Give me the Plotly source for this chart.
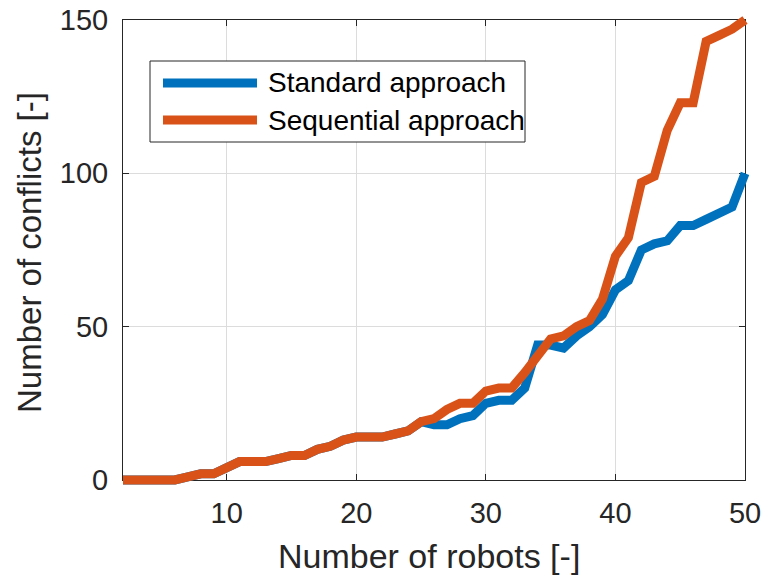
import plotly.graph_objects as go

robots = list(range(2, 51))
standard = [0, 0, 0, 0, 0, 1, 2, 2, 4, 6, 6, 6, 7, 8, 8, 10, 11, 13, 14, 14, 14, 15, 16,
            19, 18, 18, 20, 21, 25, 26, 26, 30, 44, 44, 43, 47, 50, 54, 62, 65, 75, 77, 78,
            83, 83, 85, 87, 89, 100]
sequential = [0, 0, 0, 0, 0, 1, 2, 2, 4, 6, 6, 6, 7, 8, 8, 10, 11, 13, 14, 14, 14, 15, 16,
              19, 20, 23, 25, 25, 29, 30, 30, 35, 40, 46, 47, 50, 52, 59, 73, 79, 97, 99, 114,
              123, 123, 143, 145, 147, 150]
series_names = ["Standard approach", "Sequential approach"]
colors = ["#0072BD", "#D95319"]
x_range = [2, 50]
y_range = [0, 150]
x_ticks = [10, 20, 30, 40, 50]
y_ticks = [0, 50, 100, 150]
x_title = "Number of robots [-]"
y_title = "Number of conflicts [-]"

W, H = 762, 581
# plot box in pixels
L, R, T, B = 123, 745, 20, 480
PAD = 12  # extra room so thick lines are not clipped at the box
ml, mr, mt, mb = L - PAD, W - R - PAD, T - PAD, H - B - PAD
pw, ph = W - ml - mr, H - mt - mb

def px(xp):
    return (xp - ml) / pw

def py(yp):
    return (H - mb - yp) / ph

dx = (x_range[1] - x_range[0]) / (R - L)
dy = (y_range[1] - y_range[0]) / (B - T)

fig = go.Figure()
# empty trace so the framed main axes are drawn
fig.add_trace(go.Scatter(x=[], y=[], mode="lines", showlegend=False,
                         hoverinfo="skip", xaxis="x", yaxis="y"))
for name, vals, col in zip(series_names, [standard, sequential], colors):
    fig.add_trace(go.Scatter(x=robots, y=vals, mode="lines", name=name,
                             line=dict(color=col, width=9),
                             xaxis="x2", yaxis="y2", showlegend=False))

axcol = "#262626"
font = "Liberation Sans, Arial, Helvetica, sans-serif"
common = dict(showline=True, linecolor=axcol, linewidth=1, mirror="ticks",
              ticks="inside", ticklen=6, tickcolor=axcol, tickwidth=1,
              showgrid=True, gridcolor="#DCDCDC", gridwidth=1, zeroline=False,
              automargin=False,
              tickfont=dict(family=font, size=29, color=axcol))

fig.update_layout(
    width=W, height=H,
    margin=dict(l=ml, r=mr, t=mt, b=mb),
    paper_bgcolor="white", plot_bgcolor="rgba(0,0,0,0)",
    showlegend=False,
    xaxis=dict(range=x_range, tickvals=x_ticks, domain=[px(L), px(R)],
               anchor="y", ticklabelstandoff=7, **common),
    yaxis=dict(range=y_range, tickvals=y_ticks, domain=[py(B), py(T)],
               anchor="x", ticklabelstandoff=8, **common),
    xaxis2=dict(anchor="y2", visible=False, domain=[0, 1], automargin=False,
                range=[x_range[0] - (L - ml) * dx, x_range[1] + (W - mr - R) * dx]),
    yaxis2=dict(anchor="x2", visible=False, domain=[0, 1], automargin=False,
                range=[y_range[0] - (H - mb - B) * dy, y_range[1] + (T - mt) * dy]),
)

# legend drawn as a box
shapes = [dict(type="rect", xref="paper", yref="paper",
               x0=px(150), x1=px(525), y0=py(142), y1=py(61),
               line=dict(color=axcol, width=1), fillcolor="white", layer="above")]
annotations = [
    dict(text=x_title, xref="paper", yref="paper", x=px(429), y=py(556),
         xanchor="center", yanchor="middle", showarrow=False,
         font=dict(family=font, size=34, color=axcol)),
    dict(text=y_title, xref="paper", yref="paper", x=px(29), y=py(253),
         xanchor="center", yanchor="middle", textangle=-90, showarrow=False,
         font=dict(family=font, size=33, color=axcol)),
]
for i, (name, col) in enumerate(zip(series_names, colors)):
    yy = [83, 120][i]
    shapes.append(dict(type="line", xref="paper", yref="paper",
                       x0=px(163), x1=px(257), y0=py(yy), y1=py(yy),
                       line=dict(color=col, width=9), layer="above"))
    annotations.append(dict(text=name, xref="paper", yref="paper",
                            x=px(266), y=py(yy), xanchor="left", yanchor="middle",
                            showarrow=False,
                            font=dict(family=font, size=28, color="black")))
fig.update_layout(shapes=shapes, annotations=annotations)

fig.write_html("out.html")
